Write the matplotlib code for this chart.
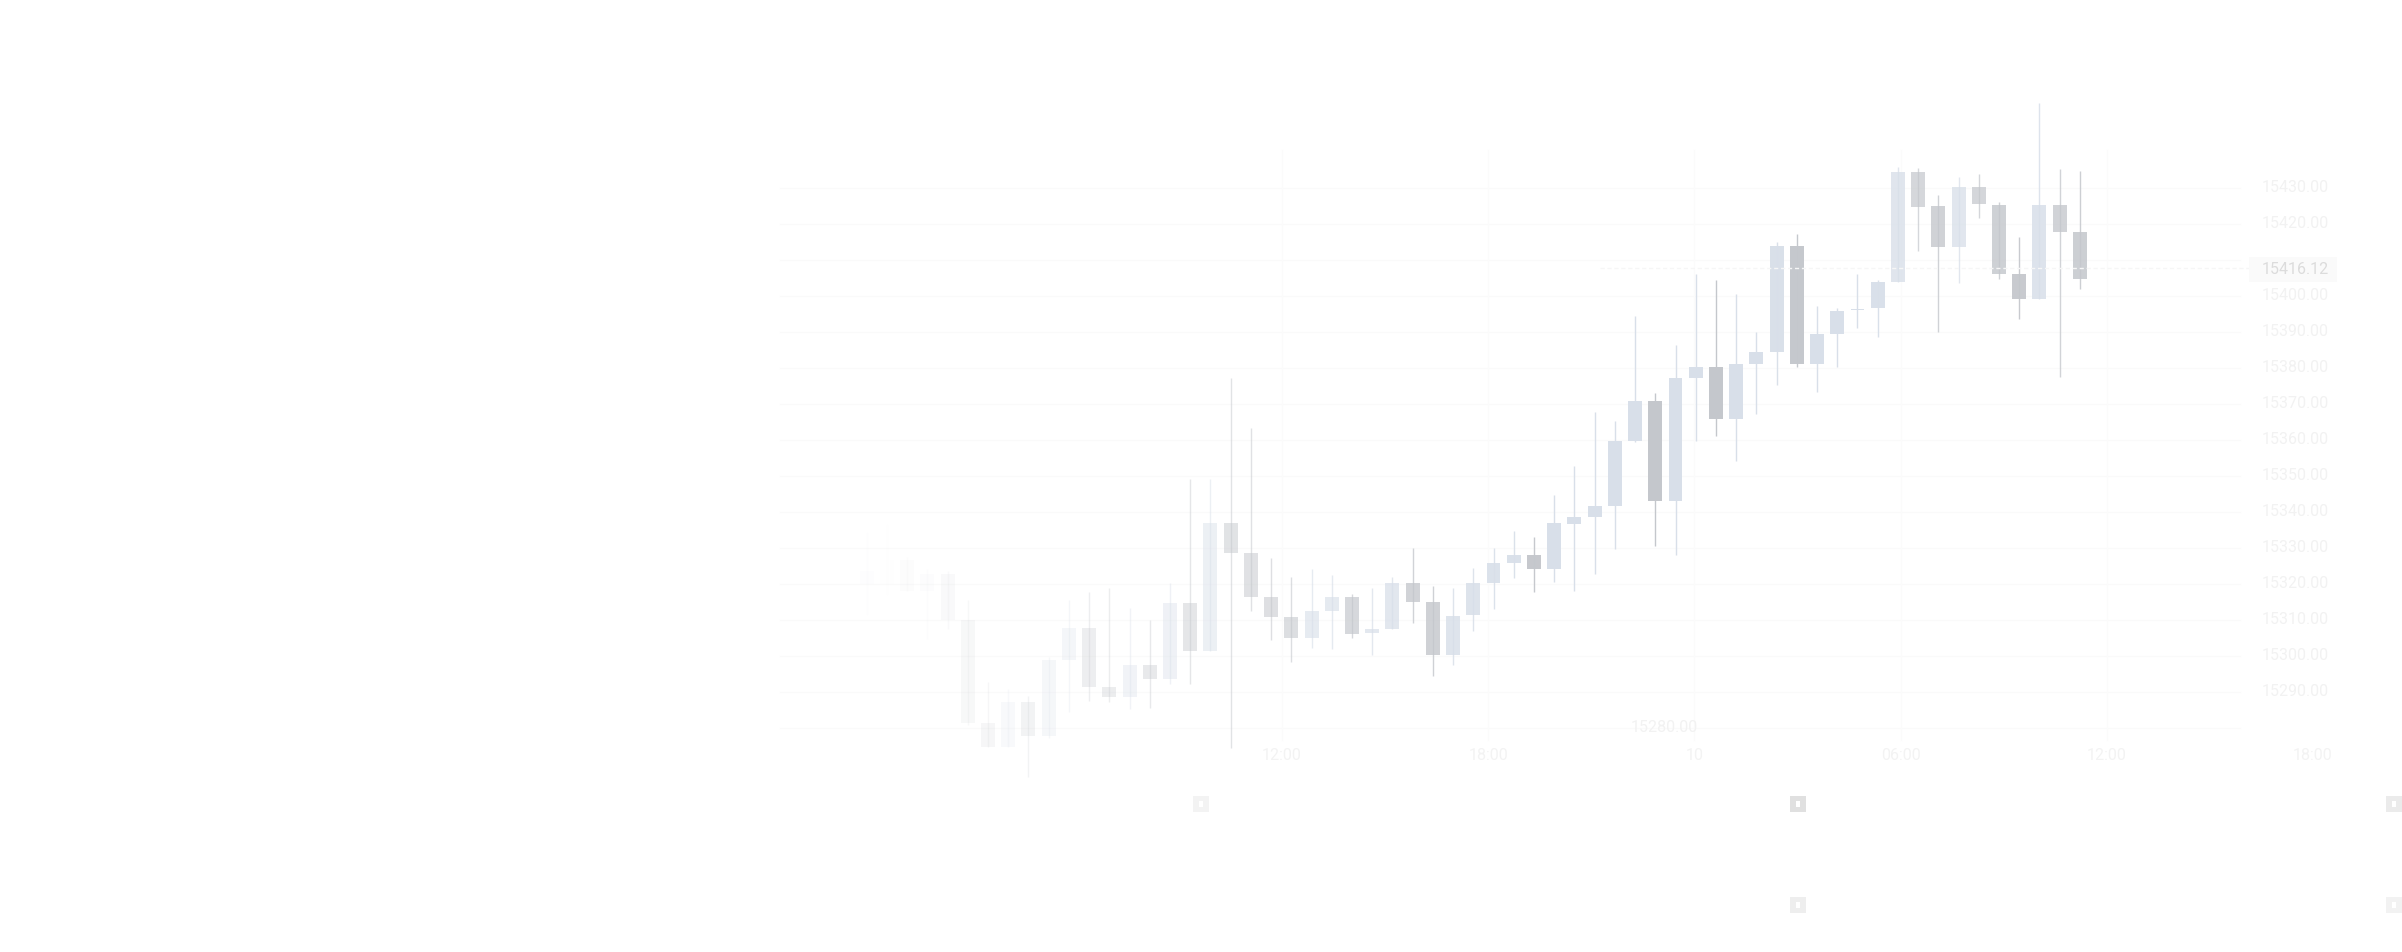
import numpy as np
import matplotlib.pyplot as plt
from matplotlib.patches import Rectangle

plt.rcParams['font.family'] = ['Roboto', 'DejaVu Sans']

# candle data (one bar per period, oldest first)
opens = [15323.7, 15319.9, 15326.7, 15318.1, 15322.8, 15310.0, 15281.3, 15274.8, 15287.3, 15277.9,
         15298.8, 15307.8, 15291.5, 15288.5, 15297.5, 15293.6, 15314.7, 15301.4, 15337.0, 15328.5,
         15316.5, 15310.9, 15304.9, 15312.6, 15316.5, 15306.3, 15307.4, 15320.3, 15315.1, 15300.2,
         15311.3, 15320.3, 15325.9, 15328.0, 15324.2, 15336.7, 15338.7, 15341.7, 15359.7, 15370.8,
         15343.1, 15377.3, 15380.3, 15365.8, 15381.2, 15384.5, 15413.9, 15381.2, 15389.4, 15396.1,
         15396.8, 15404.0, 15434.4, 15425.0, 15413.5, 15430.2, 15425.4, 15406.1, 15399.3, 15425.4,
         15417.7]
closes = [15319.9, 15326.7, 15318.1, 15322.8, 15310.0, 15281.3, 15274.8, 15287.3, 15277.9, 15298.8,
          15307.8, 15291.5, 15288.5, 15297.5, 15293.6, 15314.7, 15301.4, 15337.0, 15328.5, 15316.5,
          15310.9, 15304.9, 15312.5, 15316.5, 15306.1, 15307.4, 15320.3, 15315.1, 15300.2, 15311.2,
          15320.3, 15325.8, 15328.0, 15324.2, 15337.0, 15338.7, 15341.7, 15359.7, 15370.8, 15343.1,
          15377.3, 15380.3, 15365.8, 15381.1, 15384.5, 15413.9, 15381.2, 15389.4, 15395.8, 15396.5,
          15403.9, 15434.4, 15424.6, 15413.5, 15430.2, 15425.5, 15406.2, 15399.3, 15425.4, 15417.8,
          15404.8]
highs = [15334.5, 15336.7, 15327.5, 15324.1, 15323.7, 15315.6, 15292.9, 15290.7, 15288.9, 15299.8,
         15315.6, 15317.8, 15319.0, 15313.4, 15310.0, 15320.4, 15349.1, 15349.1, 15377.3, 15363.2,
         15327.1, 15322.0, 15324.2, 15322.5, 15317.2, 15319.0, 15322.0, 15330.1, 15319.4, 15319.0,
         15324.5, 15330.1, 15334.8, 15333.1, 15344.7, 15352.9, 15367.9, 15365.3, 15394.4, 15373.0,
         15386.4, 15406.0, 15404.4, 15400.5, 15390.1, 15414.9, 15417.2, 15397.3, 15396.6, 15406.0,
         15404.4, 15435.9, 15435.6, 15428.0, 15433.1, 15433.9, 15426.1, 15416.3, 15453.6, 15435.2,
         15434.8]
lows = [15311.4, 15316.9, 15318.0, 15304.6, 15307.6, 15280.8, 15274.8, 15274.8, 15266.5, 15277.1,
        15284.4, 15287.6, 15287.3, 15285.2, 15285.5, 15292.1, 15292.1, 15301.4, 15274.4, 15312.6,
        15304.4, 15298.4, 15302.3, 15301.9, 15304.9, 15300.3, 15307.4, 15309.1, 15294.5, 15297.5,
        15307.0, 15313.1, 15321.6, 15317.7, 15320.6, 15318.1, 15322.8, 15329.7, 15359.5, 15330.6,
        15328.1, 15359.7, 15361.1, 15354.3, 15367.1, 15375.3, 15380.4, 15373.4, 15380.4, 15391.2,
        15388.7, 15404.0, 15412.5, 15389.9, 15403.5, 15421.8, 15404.8, 15393.7, 15399.3, 15377.4,
        15401.9]

price_ticks = [15280, 15290, 15300, 15310, 15320, 15330, 15340, 15350, 15360, 15370,
               15380, 15390, 15400, 15410, 15420, 15430]
time_labels = ['12:00', '18:00', '10', '06:00', '12:00', '18:00']
price_line = 15407.8
price_line_text = '15416.12'

UP = '#d8dfe9'
DOWN = '#c4c7cc'
LABEL = '#f2f2f2'

W, H = 2402, 952
fig = plt.figure(figsize=(W / 100, H / 100), dpi=100)
ax = fig.add_axes([0, 0, 1, 1])
ax.axis('off')

# pixel <-> data mapping for the layout
x0_px, step_px = 866.7, 20.22
y_ref_px, ref_price, px_per_unit = 296.0, 15400.0, 3.6
ax.set_xlim(-x0_px / step_px, (W - x0_px) / step_px)
ax.set_ylim(ref_price - (H - y_ref_px) / px_per_unit, ref_price + y_ref_px / px_per_unit)


def dx(px):
    return (px - x0_px) / step_px


def dy(py):
    return ref_price + (y_ref_px - py) / px_per_unit


n = len(opens)
idx = np.arange(n)
o = np.array(opens)
c = np.array(closes)
h = np.array(highs)
lo = np.array(lows)

# fade the chart out to the left and slightly toward the top
mid = (o + c) / 2
alpha = np.clip(idx / 34, 0.03, 1) ** 1.1
alpha *= 1 - 0.3 * np.clip((mid - 15395) / 35, 0, 1)

# grid (barely visible)
for v in price_ticks:
    ax.plot([dx(780), dx(2240)], [v, v], color='#fafafa', lw=1, zorder=0)
t_pos = [dx(1282 + 206.2 * k) for k in range(len(time_labels))]
for t in t_pos[:-1]:
    ax.plot([t, t], [dy(150), dy(740)], color='#fbfbfb', lw=1, zorder=0)

for i in range(n):
    col = UP if c[i] >= o[i] else DOWN
    ax.plot([i, i], [lo[i], h[i]], color=col, lw=1.0, alpha=alpha[i],
            solid_capstyle='butt', zorder=2)
    body = max(abs(c[i] - o[i]), 0.4)
    ax.bar(i, body, bottom=min(o[i], c[i]), width=0.69, color=col,
           alpha=alpha[i], linewidth=0, zorder=3)

# current price dashed line and box
ax.plot([dx(1600), dx(2249)], [price_line, price_line], color='#f6f6f6',
        lw=1, ls=(0, (3, 2)), zorder=4)
ax.add_patch(Rectangle((dx(2249), dy(282)), dx(2337) - dx(2249), dy(257) - dy(282),
                       facecolor='#fafafa', edgecolor='none', zorder=6))
ax.text(dx(2329), dy(269.5), price_line_text, ha='right', va='center',
        fontsize=11.5, color='#dcdcdc', zorder=7)

# price labels (the one under the price box is hidden)
for v in price_ticks:
    if abs(dy(269.5) - v) < 4:
        continue
    xr = dx(1698) if v == price_ticks[0] else dx(2329)
    ax.text(xr, v, f'{v:.2f}', ha='right', va='center', fontsize=11.5,
            color=LABEL, zorder=5)

# time labels
for t, lab in zip(t_pos, time_labels):
    ax.text(t, dy(756), lab, ha='center', va='center', fontsize=11.5,
            color='#f3f3f3', zorder=5)

# small control squares below the chart
buttons = [(1201, 804, '#f3f3f3'), (1798, 804, '#e0e0e0'), (2394, 804, '#ebebeb'),
           (1798, 905, '#eeeeee'), (2394, 905, '#f2f2f2')]
for bx, by, bc in buttons:
    fig.add_artist(Rectangle(((bx - 8) / W, 1 - (by + 8) / H), 16 / W, 16 / H,
                             facecolor=bc, edgecolor='none'))
    fig.add_artist(Rectangle(((bx - 2) / W, 1 - (by + 3) / H), 4 / W, 6 / H,
                             facecolor='white', edgecolor='none'))

fig.savefig('out.png', dpi=100, facecolor='white')
